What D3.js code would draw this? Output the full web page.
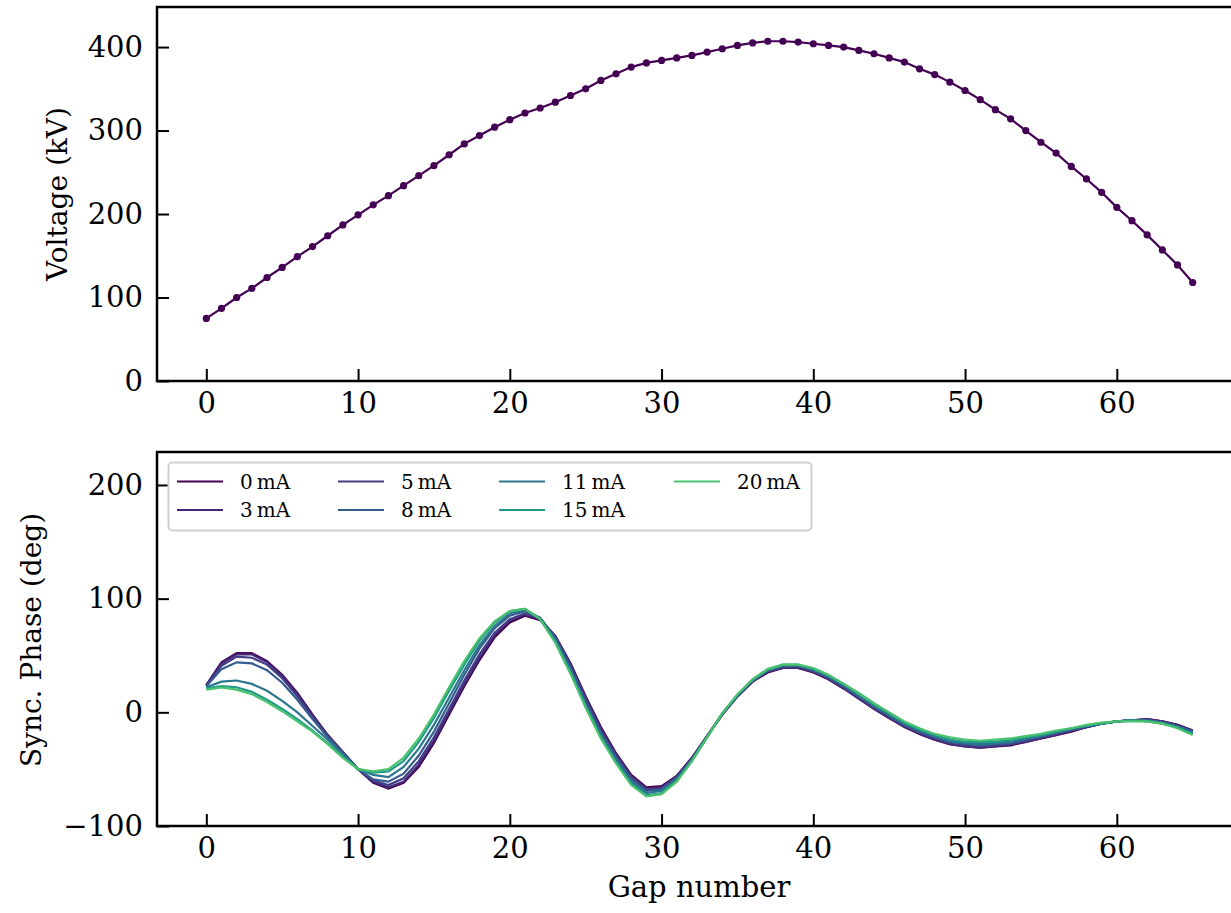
<!DOCTYPE html>
<html>
<head>
<meta charset="utf-8">
<script src="https://cdn.jsdelivr.net/npm/d3@7"></script>
<style>
  body { margin: 0; background: #fff; }
  .chart-container { width: 1231px; height: 913px; }
  text { font-family: "DejaVu Serif", serif; }
</style>
</head>
<body>
<div class="chart-container"></div>
<script>
// gap numbers 0..65
var gaps = d3.range(0, 66);

// gap voltage (kV)
var voltage = [75, 87, 100, 111, 124, 136, 149, 161, 174, 187,
               199, 211, 222, 234, 246, 258, 271, 284, 294, 304,
               313, 321, 327, 334, 342, 350, 360, 368, 376, 381,
               384, 387, 390, 394, 398, 402, 405, 407, 407, 406,
               404, 402, 400, 396, 392, 387, 382, 374, 367, 358,
               348, 337, 325, 314, 300, 286, 273, 257, 242, 226,
               208, 192, 175, 157, 139, 118];

// beam currents for the legend
var currents = [0, 3, 5, 8, 11, 15, 20];

// synchronous phase (deg) for each current
var phase0mA = [24, 44, 52, 52, 45, 33, 17, -2, -20, -35,
                -50, -62, -67, -62, -48, -27, -2, 23, 46, 66,
                79, 85, 81, 67, 43, 14, -13, -36, -55, -66,
                -65, -56, -40, -21, -2, 14, 27, 35, 39, 39,
                35, 29, 21, 12, 3, -5, -13, -19, -24, -28,
                -30, -31, -30, -29, -26, -23, -20, -17, -13, -10,
                -8, -7, -6, -8, -11, -16];
var phase3mA = [24, 43, 51, 51, 44, 32, 16, -3, -20, -35,
                -50, -61, -66, -61, -46, -25, 0, 25, 48, 68,
                81, 86, 82, 67, 43, 13, -14, -37, -56, -67,
                -66, -56, -40, -21, -2, 14, 27, 36, 39, 39,
                36, 29, 21, 12, 3, -5, -12, -19, -24, -28,
                -30, -31, -30, -28, -26, -23, -20, -16, -13, -10,
                -8, -7, -6, -8, -11, -16];
var phase5mA = [23, 41, 49, 48, 42, 30, 14, -4, -21, -35,
                -50, -60, -64, -58, -43, -22, 3, 28, 51, 70,
                82, 87, 83, 66, 41, 11, -16, -38, -57, -68,
                -67, -57, -41, -21, -2, 14, 28, 36, 40, 40,
                36, 30, 22, 13, 4, -4, -12, -18, -23, -27,
                -29, -30, -29, -28, -25, -22, -19, -16, -13, -10,
                -8, -7, -7, -8, -12, -17];
var phase8mA = [23, 38, 44, 43, 37, 26, 11, -6, -22, -36,
                -50, -59, -61, -54, -38, -17, 8, 33, 56, 74,
                85, 89, 83, 65, 39, 9, -18, -40, -59, -69,
                -68, -58, -41, -21, -1, 15, 28, 37, 41, 41,
                37, 31, 23, 14, 5, -3, -11, -17, -22, -26,
                -28, -29, -28, -27, -24, -21, -18, -15, -12, -10,
                -8, -7, -7, -9, -12, -17];
var phase11mA = [22, 27, 28, 25, 19, 10, 0, -12, -24, -37,
                 -50, -55, -57, -48, -32, -11, 13, 37, 59, 76,
                 87, 90, 83, 64, 37, 7, -20, -42, -61, -71,
                 -69, -59, -42, -22, -1, 15, 28, 37, 41, 41,
                 38, 32, 24, 15, 6, -2, -10, -16, -21, -25,
                 -27, -28, -27, -26, -23, -21, -18, -15, -12, -10,
                 -8, -7, -7, -9, -13, -18];
var phase15mA = [21, 23, 22, 18, 11, 3, -6, -16, -27, -39,
                 -50, -53, -52, -43, -26, -5, 19, 42, 63, 79,
                 89, 91, 82, 62, 35, 5, -22, -44, -63, -73,
                 -71, -60, -43, -22, -1, 15, 29, 38, 42, 42,
                 38, 32, 25, 16, 7, -1, -9, -15, -20, -24,
                 -26, -26, -26, -24, -22, -20, -17, -14, -12, -10,
                 -8, -7, -8, -10, -13, -19];
var phase20mA = [20, 22, 20, 16, 9, 1, -8, -17, -28, -40,
                 -50, -52, -50, -40, -23, -2, 22, 45, 65, 80,
                 89, 91, 82, 61, 34, 4, -23, -45, -64, -74,
                 -72, -61, -43, -22, -1, 16, 29, 38, 42, 42,
                 39, 33, 25, 17, 8, 0, -8, -14, -19, -22,
                 -24, -25, -24, -23, -21, -19, -16, -14, -11, -9,
                 -8, -8, -8, -10, -14, -20];

var phaseSeries = [phase0mA, phase3mA, phase5mA, phase8mA, phase11mA, phase15mA, phase20mA];

var xTicks = [0, 10, 20, 30, 40, 50, 60];
var voltTicks = [0, 100, 200, 300, 400];
var phaseTicks = [-100, 0, 100, 200];

var W = 1231, H = 913;
var svg = d3.select(".chart-container").append("svg")
    .attr("width", W).attr("height", H);

var left = 157, right = 1242;
var x = d3.scaleLinear().domain([-3.25, 68.25]).range([left, right]);

function drawFrame(g, top, bottom, yScale, yTicks) {
    // inward ticks on bottom and left
    g.append("g")
        .attr("transform", "translate(0," + bottom + ")")
        .call(d3.axisBottom(x).tickValues(xTicks).tickSize(-12).tickPadding(11))
        .call(function(a) { a.select(".domain").remove(); })
        .call(function(a) {
            a.selectAll("line").attr("stroke", "#000").attr("stroke-width", 2);
            a.selectAll("text").attr("font-size", 29).attr("fill", "#000")
                .attr("font-family", "DejaVu Serif");
        });
    g.append("g")
        .attr("transform", "translate(" + left + ",0)")
        .call(d3.axisLeft(yScale).tickValues(yTicks).tickSize(-12).tickPadding(14))
        .call(function(a) { a.select(".domain").remove(); })
        .call(function(a) {
            a.selectAll("line").attr("stroke", "#000").attr("stroke-width", 2);
            a.selectAll("text").attr("font-size", 29).attr("fill", "#000")
                .attr("font-family", "DejaVu Serif");
        });
    // spines
    g.append("rect")
        .attr("x", left).attr("y", top)
        .attr("width", right - left).attr("height", bottom - top)
        .attr("fill", "none").attr("stroke", "#000").attr("stroke-width", 2.5);
}

// ---- top panel: voltage ----
var topY = d3.scaleLinear().domain([0, 448]).range([381, 7]);
var gTop = svg.append("g");

var voltLine = d3.line()
    .x(function(d, i) { return x(gaps[i]); })
    .y(function(d) { return topY(d); });

gTop.append("path")
    .datum(voltage)
    .attr("d", voltLine)
    .attr("fill", "none")
    .attr("stroke", d3.interpolateViridis(0))
    .attr("stroke-width", 2.2);

gTop.selectAll("circle")
    .data(voltage)
    .enter().append("circle")
    .attr("cx", function(d, i) { return x(gaps[i]); })
    .attr("cy", function(d) { return topY(d); })
    .attr("r", 3.6)
    .attr("fill", d3.interpolateViridis(0));

drawFrame(gTop, 7, 381, topY, voltTicks);

svg.append("text")
    .attr("transform", "translate(67,194) rotate(-90)")
    .attr("text-anchor", "middle")
    .attr("font-size", 28)
    .text("Voltage (kV)");

// ---- bottom panel: synchronous phase ----
var botY = d3.scaleLinear().domain([-100, 229]).range([826, 452]);
var gBot = svg.append("g");
var color = function(i) { return d3.interpolateViridis(currents[i] / 28); };

var phaseLine = d3.line()
    .x(function(d, i) { return x(gaps[i]); })
    .y(function(d) { return botY(d); });

gBot.selectAll("path.phase")
    .data(phaseSeries)
    .enter().append("path")
    .attr("class", "phase")
    .attr("d", phaseLine)
    .attr("fill", "none")
    .attr("stroke", function(d, i) { return color(i); })
    .attr("stroke-width", 2.2);

drawFrame(gBot, 452, 826, botY, phaseTicks);

svg.append("text")
    .attr("transform", "translate(41,640) rotate(-90)")
    .attr("text-anchor", "middle")
    .attr("font-size", 28)
    .text("Sync. Phase (deg)");

svg.append("text")
    .attr("x", 699).attr("y", 897)
    .attr("text-anchor", "middle")
    .attr("font-size", 29)
    .text("Gap number");

// legend, 4 columns x 2 rows
var legend = svg.append("g");
legend.append("rect")
    .attr("x", 168.5).attr("y", 462.5)
    .attr("width", 643).attr("height", 68)
    .attr("rx", 4)
    .attr("fill", "#fff").attr("fill-opacity", 0.8)
    .attr("stroke", "#d0d0d0").attr("stroke-width", 2);

var colX = [177, 338, 499, 674];
var rowY = [481.5, 510];
var items = legend.selectAll("g.item")
    .data(currents)
    .enter().append("g")
    .attr("class", "item")
    .attr("transform", function(d, i) {
        return "translate(" + colX[Math.floor(i / 2)] + "," + rowY[i % 2] + ")";
    });
items.append("line")
    .attr("x1", 0).attr("x2", 46)
    .attr("stroke", function(d, i) { return color(i); })
    .attr("stroke-width", 2.2);
items.append("text")
    .attr("x", 63).attr("y", 7)
    .attr("font-size", 20)
    .text(function(d) { return d + "\u2009mA"; });
</script>
</body>
</html>
